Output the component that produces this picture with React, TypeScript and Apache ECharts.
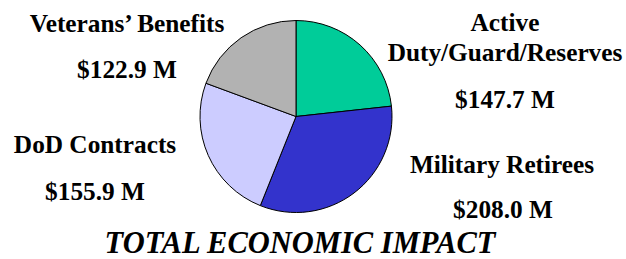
import React, { useEffect, useRef } from "react";
import * as echarts from "echarts";

const categories = ["Active\nDuty/Guard/Reserves", "Military Retirees", "DoD Contracts", "Veterans\u2019 Benefits"];
const values = [147.7, 208.0, 155.9, 122.9];
const colors = ["#00CC99", "#3333CC", "#CCCCFF", "#B2B2B2"];
const titleText = "TOTAL ECONOMIC IMPACT";

// label layout (centre of name block, centre of value text)
const namePos = [[505, 37], [502, 164], [95, 144], [127, 23]];
const valuePos = [[505, 99], [503, 209], [95, 191], [127, 69]];

const FONT = "Liberation Serif";

export default function App() {
  const ref = useRef<HTMLDivElement>(null);
  useEffect(() => {
    if (!ref.current) return;
    const chart = echarts.init(ref.current, null, { renderer: "svg" });
    const graphics: any[] = [];
    categories.forEach((c, i) => {
      graphics.push({
        type: "text",
        x: namePos[i][0],
        y: namePos[i][1],
        style: {
          text: c,
          fontFamily: FONT,
          fontWeight: "bold",
          fontSize: 25.3,
          fill: "#000",
          align: "center",
          verticalAlign: "middle",
          lineHeight: 30,
        },
      });
      graphics.push({
        type: "text",
        x: valuePos[i][0],
        y: valuePos[i][1],
        style: {
          text: "$" + values[i].toFixed(1) + " M",
          fontFamily: FONT,
          fontWeight: "bold",
          fontSize: 25.3,
          fill: "#000",
          align: "center",
          verticalAlign: "middle",
        },
      });
    });
    graphics.push({
      type: "text",
      x: 300,
      y: 243,
      style: {
        text: titleText,
        fontFamily: FONT,
        fontWeight: "bold",
        fontStyle: "italic",
        fontSize: 30.5,
        fill: "#000",
        align: "center",
        verticalAlign: "middle",
      },
    });
    chart.setOption({
      animation: false,
      graphic: graphics,
      series: [
        {
          type: "pie",
          center: [296, 116.5],
          radius: 96,
          startAngle: 90,
          clockwise: true,
          label: { show: false },
          labelLine: { show: false },
          itemStyle: { borderColor: "#000", borderWidth: 1 },
          data: categories.map((c, i) => ({
            name: c,
            value: values[i],
            itemStyle: { color: colors[i] },
          })),
        },
      ],
    });
    return () => chart.dispose();
  }, []);
  return (
    <div
      ref={ref}
      style={{ position: "absolute", left: 0, top: 0, width: 626, height: 259 }}
    />
  );
}
